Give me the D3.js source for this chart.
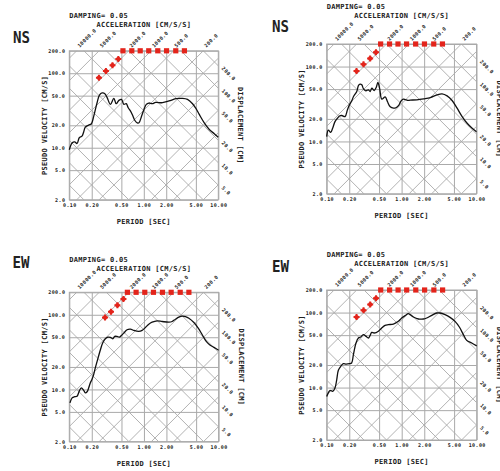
<!DOCTYPE html>
<html>
<head>
<meta charset="utf-8">
<script src="https://cdn.jsdelivr.net/npm/d3@7"></script>
<style>
body { margin: 0; background: #fff; }
text { font-family: "DejaVu Sans Mono", monospace; font-weight: bold; fill: #222; }
</style>
</head>
<body>
<div id="viz"></div>
<script>
const width = 500;
const height = 471;

// axes and tripartite grid
const periodTicks = [0.1, 0.2, 0.5, 1, 2, 5, 10];
const velocityTicks = [2, 5, 10, 20, 50, 100, 200];
const accelLines = [2, 5, 10, 20, 50, 100, 200, 500, 1000, 2000, 5000, 10000];
const dispLines = [0.05, 0.1, 0.2, 0.5, 1, 2, 5, 10, 20, 50, 100, 200];
const accelLabels = [10000, 5000, 2000, 1000, 500, 200];
const dispLabels = [200, 100, 50, 20, 10, 5];
const damping = 0.05;

// response spectra: period [sec] / pseudo velocity [cm/s]
const nsLeftT = [0.1, 0.109, 0.118, 0.127, 0.136, 0.148, 0.156, 0.164, 0.182, 0.198, 0.213, 0.236, 0.254, 0.276, 0.30, 0.322, 0.357, 0.396, 0.426, 0.463, 0.502, 0.540, 0.581, 0.618, 0.664, 0.714, 0.760, 0.817, 0.861, 0.935, 1.005, 1.08, 1.17, 1.30, 1.44, 1.78, 2.18, 2.69, 3.30, 3.86, 4.51, 5.0, 5.55, 6.48, 7.57, 8.83, 10];
const nsLeftV = [9.4, 11.6, 12.0, 11.4, 13.6, 14.3, 16.3, 18.9, 20.1, 21.0, 26.6, 40.2, 51.0, 54.3, 53.2, 47.0, 38.2, 46.0, 39.0, 43.2, 44.6, 38.2, 39.0, 34.4, 31.0, 26.6, 23.2, 21.6, 21.6, 26.6, 32.7, 38.2, 39.8, 39.0, 40.6, 40.2, 42.4, 45.5, 46.0, 44.6, 39.0, 33.7, 28.0, 21.6, 17.6, 15.4, 13.8];

const nsRightT = [0.1, 0.105, 0.113, 0.120, 0.129, 0.139, 0.148, 0.159, 0.176, 0.189, 0.201, 0.216, 0.228, 0.239, 0.252, 0.266, 0.279, 0.294, 0.310, 0.333, 0.361, 0.380, 0.401, 0.431, 0.458, 0.482, 0.508, 0.545, 0.604, 0.649, 0.705, 0.78, 0.84, 0.92, 0.98, 1.05, 1.12, 1.2, 1.3, 1.6, 1.97, 2.42, 2.97, 3.47, 4.05, 4.72, 5.51, 6.43, 7.50, 8.75, 10];
const nsRightV = [11.6, 14.2, 13.2, 15.0, 18.4, 20.4, 21.9, 22.2, 21.5, 26.4, 30.8, 34.8, 39.8, 42.8, 46.4, 55.9, 58.2, 57.0, 50.4, 47.4, 48.9, 46.4, 51.5, 47.9, 52.6, 61.3, 51.5, 36.7, 39.4, 33.8, 29.0, 27.8, 28.2, 30.5, 34.5, 36.7, 36.2, 35.3, 35.6, 36.0, 37.1, 38.6, 41.9, 43.2, 40.6, 35.2, 27.8, 21.5, 17.5, 15.0, 13.5];

const ewLeftT = [0.102, 0.109, 0.118, 0.127, 0.136, 0.145, 0.156, 0.164, 0.173, 0.182, 0.191, 0.201, 0.212, 0.223, 0.243, 0.261, 0.280, 0.304, 0.330, 0.355, 0.382, 0.406, 0.436, 0.469, 0.499, 0.536, 0.594, 0.659, 0.730, 0.852, 0.945, 1.047, 1.161, 1.287, 1.502, 1.753, 2.154, 2.388, 2.647, 2.935, 3.254, 3.606, 3.998, 4.667, 5.336, 6.037, 6.832, 7.57, 8.66, 10];
const ewLeftV = [6.6, 7.7, 8.0, 8.1, 9.5, 10.5, 9.7, 9.0, 9.3, 10.5, 12.2, 13.6, 15.8, 19.4, 26.4, 34.0, 41.8, 47.7, 50.2, 49.7, 47.7, 51.3, 51.3, 50.2, 52.9, 56.8, 63.0, 64.3, 61.7, 59.8, 61.7, 67.6, 74.9, 79.6, 83.0, 81.3, 79.6, 81.3, 87.3, 92.9, 96.0, 94.5, 90.0, 78.8, 66.2, 54.0, 44.0, 39.7, 36.6, 33.5];

const ewRightT = [0.1, 0.105, 0.111, 0.120, 0.129, 0.136, 0.143, 0.154, 0.167, 0.181, 0.2, 0.215, 0.227, 0.246, 0.265, 0.284, 0.308, 0.335, 0.359, 0.378, 0.398, 0.428, 0.464, 0.489, 0.541, 0.600, 0.664, 0.774, 0.903, 1.0, 1.108, 1.227, 1.292, 1.431, 1.668, 1.945, 2.154, 2.512, 2.929, 3.245, 3.783, 4.41, 5.14, 5.87, 6.64, 7.36, 8.58, 10];
const ewRightV = [7.6, 8.5, 9.2, 8.9, 9.9, 12.7, 17.0, 19.2, 20.8, 20.6, 20.8, 21.3, 27.5, 39.3, 45.8, 47.2, 50.8, 48.2, 45.8, 49.2, 54.5, 53.4, 54.5, 56.2, 62.3, 67.6, 69.0, 70.4, 76.4, 84.7, 91.0, 96.6, 93.8, 87.3, 82.1, 82.1, 84.7, 91.9, 98.7, 98.7, 93.8, 86.4, 76.4, 64.2, 50.8, 42.6, 39.3, 36.0];

// target spectrum markers
const targetAT = [0.25, 0.31, 0.38, 0.455];
const targetAV = [87, 107, 128, 155];
const targetAFlatT = [0.525, 0.69, 0.895, 1.165, 1.54, 2.02, 2.685, 3.51];
const targetBT = [0.301, 0.362, 0.441, 0.531];
const targetBV = [92, 110, 134, 163];
const targetBFlatT = [0.60, 0.785, 1.026, 1.341, 1.771, 2.315, 3.06, 4.0];
const targetFlatV = 200;

const gridColor = '#a9a9a9';
const markColor = '#e3241b';

const panels = [
  {id: 1, x: 69.3, y: 50.8, s: 149, name: 'NS', nx: 13, ny: 43, titleDy: 0,
   T: nsLeftT, V: nsLeftV, mT: targetAT, mV: targetAV, fT: targetAFlatT},
  {id: 2, x: 326.7, y: 44, s: 149.8, name: 'NS', nx: 272, ny: 32, titleDy: -1.5,
   T: nsRightT, V: nsRightV, mT: targetAT, mV: targetAV, fT: targetAFlatT},
  {id: 3, x: 69.3, y: 292.3, s: 149.3, name: 'EW', nx: 12.5, ny: 268, titleDy: 2.5,
   T: ewLeftT, V: ewLeftV, mT: targetBT, mV: targetBV, fT: targetBFlatT},
  {id: 4, x: 326.7, y: 290, s: 150, name: 'EW', nx: 272, ny: 272, titleDy: 0,
   T: ewRightT, V: ewRightV, mT: targetAT, mV: targetAV, fT: targetAFlatT}
];

const svg = d3.select('#viz')
  .append('svg')
  .attr('width', width)
  .attr('height', height)
  .attr('viewBox', [0, 0, width, height]);

const drawPanel = (p) => {
  const g = svg.append('g');

  const xScale = d3.scaleLog().domain([0.1, 10]).range([p.x, p.x + p.s]);
  const yScale = d3.scaleLog().domain([2, 200]).range([p.y + p.s, p.y]);

  svg.append('clipPath')
    .attr('id', 'clip' + p.id)
    .append('rect')
    .attr('x', p.x).attr('y', p.y)
    .attr('width', p.s).attr('height', p.s);

  // diagonal acceleration / displacement lines
  const diag = d3.line().x(d => xScale(d[0])).y(d => yScale(d[1]));
  const ends = [0.1, 10];
  const dg = g.append('g').attr('clip-path', `url(#clip${p.id})`);
  accelLines.forEach(a => {
    dg.append('path')
      .attr('d', diag(ends.map(t => [t, a * t / (2 * Math.PI)])))
      .attr('stroke', gridColor).attr('stroke-width', 0.9).attr('fill', 'none');
  });
  dispLines.forEach(dsp => {
    dg.append('path')
      .attr('d', diag(ends.map(t => [t, 2 * Math.PI * dsp / t])))
      .attr('stroke', gridColor).attr('stroke-width', 0.9).attr('fill', 'none');
  });

  // velocity axis + horizontal grid
  const yAxis = g.append('g')
    .attr('transform', `translate(${p.x},0)`)
    .call(d3.axisLeft(yScale)
      .tickValues(velocityTicks)
      .tickSize(-p.s)
      .tickPadding(4)
      .tickFormat(d3.format('.1f')));

  // period axis + vertical grid
  const xAxis = g.append('g')
    .attr('transform', `translate(0,${p.y + p.s})`)
    .call(d3.axisBottom(xScale)
      .tickValues(periodTicks)
      .tickSize(-p.s)
      .tickPadding(3.5)
      .tickFormat(d3.format('.2f')));

  [yAxis, xAxis].forEach(ax => {
    ax.select('.domain').remove();
    ax.selectAll('line').attr('stroke', gridColor).attr('stroke-width', 1);
    ax.selectAll('text').attr('font-size', 5).attr('letter-spacing', 0.4);
  });

  g.append('rect')
    .attr('x', p.x).attr('y', p.y)
    .attr('width', p.s).attr('height', p.s)
    .attr('fill', 'none').attr('stroke', gridColor).attr('stroke-width', 1);

  // acceleration labels along the top
  accelLabels.forEach(a => {
    const t = 2 * Math.PI * 200 / a;
    const px = xScale(t) + 3, py = p.y - 3;
    g.append('text')
      .attr('transform', `translate(${px},${py}) rotate(-45)`)
      .attr('font-size', 5).attr('letter-spacing', 0.4)
      .text(d3.format('.1f')(a));
  });

  // displacement labels along the right
  dispLabels.forEach(dsp => {
    const v = 2 * Math.PI * dsp / 10;
    const px = p.x + p.s + 3, py = yScale(v) + 3;
    g.append('text')
      .attr('transform', `translate(${px},${py}) rotate(45)`)
      .attr('font-size', 5).attr('letter-spacing', 0.4)
      .text(d3.format('.1f')(dsp));
  });

  // titles
  const cx = p.x + p.s / 2, cy = p.y + p.s / 2;
  g.append('text')
    .attr('x', p.x).attr('y', p.y - 35.5 + p.titleDy).attr('dy', '0.35em')
    .attr('font-size', 7).attr('letter-spacing', 0.3)
    .text('DAMPING= ' + d3.format('.2f')(damping));
  g.append('text')
    .attr('x', cx).attr('y', p.y - 26.5 + p.titleDy).attr('dy', '0.35em')
    .attr('text-anchor', 'middle')
    .attr('font-size', 7).attr('letter-spacing', 0.3)
    .text('ACCELERATION [CM/S/S]');
  g.append('text')
    .attr('x', cx).attr('y', p.y + p.s + 21.5).attr('dy', '0.35em')
    .attr('text-anchor', 'middle')
    .attr('font-size', 7).attr('letter-spacing', 0.3)
    .text('PERIOD [SEC]');
  g.append('text')
    .attr('transform', `translate(${p.x - 25},${cy}) rotate(-90)`)
    .attr('dy', '0.35em')
    .attr('text-anchor', 'middle')
    .attr('font-size', 7).attr('letter-spacing', 0.3)
    .text('PSEUDO VELOCITY [CM/S]');
  g.append('text')
    .attr('transform', `translate(${p.x + p.s + 22.5},${cy}) rotate(90)`)
    .attr('dy', '0.35em')
    .attr('text-anchor', 'middle')
    .attr('font-size', 7).attr('letter-spacing', 0.3)
    .text('DISPLACEMENT [CM]');

  g.append('text')
    .attr('x', p.nx).attr('y', p.ny)
    .attr('font-family', '"Liberation Sans", Arial, sans-serif')
    .attr('font-size', 15)
    .attr('textLength', 17).attr('lengthAdjust', 'spacingAndGlyphs')
    .attr('fill', '#111')
    .text(p.name);

  // target markers
  const dots = g.append('g').selectAll('g')
    .data(d3.zip(p.mT, p.mV))
    .join('g')
    .attr('transform', d => `translate(${xScale(d[0])},${yScale(d[1])})`);
  dots.append('path')
    .attr('d', d3.symbol().type(d3.symbolCross).size(20))
    .attr('fill', markColor);
  dots.append('circle')
    .attr('r', 2.2)
    .attr('fill', markColor);

  g.append('g').selectAll('rect')
    .data(p.fT)
    .join('rect')
    .attr('x', d => xScale(d) - 2.6)
    .attr('y', yScale(targetFlatV) - 2.6)
    .attr('width', 5.2).attr('height', 5.2)
    .attr('fill', markColor);

  // spectrum curve
  const curve = d3.line()
    .x(d => xScale(d[0]))
    .y(d => yScale(d[1]))
    .curve(d3.curveCatmullRom.alpha(0.5));

  g.append('path')
    .attr('d', curve(d3.zip(p.T, p.V)))
    .attr('fill', 'none')
    .attr('stroke', '#111')
    .attr('stroke-width', 1.3);
};

panels.forEach(drawPanel);
</script>
</body>
</html>
